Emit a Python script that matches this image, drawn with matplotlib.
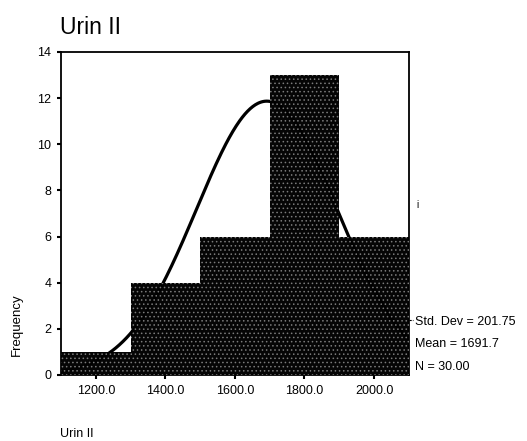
"""SPSS-style histogram of Urin II with fitted normal curve."""

import numpy as np
import matplotlib

matplotlib.use("Agg")

import matplotlib.pyplot as plt


BIN_EDGES = [1100, 1300, 1500, 1700, 1900, 2100]
COUNTS = [1, 4, 6, 13, 6]
STD_DEV = 201.75
MEAN = 1691.7
N = 30
X_TICKS = [1200, 1400, 1600, 1800, 2000]
Y_TICKS = [0, 2, 4, 6, 8, 10, 12, 14]

plt.rcParams["font.family"] = ["Liberation Sans", "DejaVu Sans"]
plt.rcParams["hatch.linewidth"] = 0.6

fig = plt.figure(figsize=(5.27, 4.41), dpi=100, facecolor="white")
ax = fig.add_axes([0.1157, 0.1497, 0.660, 0.7327])

lefts = BIN_EDGES[:-1]
widths = np.diff(BIN_EDGES)
ax.bar(lefts, COUNTS, width=widths, align="edge", color="#050505", linewidth=0, zorder=2)

# normal curve scaled to counts, from the printed statistics
bw = widths[0]
xs = np.linspace(BIN_EDGES[0], BIN_EDGES[-1], 400)
ys = N * bw / (STD_DEV * np.sqrt(2 * np.pi)) * np.exp(-0.5 * ((xs - MEAN) / STD_DEV) ** 2)
ax.plot(xs, ys, color="black", linewidth=2.3, solid_capstyle="round", zorder=3)

# speckled texture of the scanned bars
ax.bar(lefts, COUNTS, width=widths, align="edge", facecolor="none", edgecolor="#7a7a7a",
       hatch="....", linewidth=0, zorder=4)

ax.set_xlim(BIN_EDGES[0], BIN_EDGES[-1])
ax.set_ylim(0, 14)
ax.set_xticks(X_TICKS)
ax.set_xticklabels([f"{v:.1f}" for v in X_TICKS])
ax.set_yticks(Y_TICKS)
ax.tick_params(direction="out", length=3, width=1.5, labelsize=9, pad=4)
for s in ax.spines.values():
    s.set_linewidth(1.3)

fig.text(0.114, 0.937, "Urin II", fontsize=16.5, ha="left", va="center")
fig.text(0.032, 0.263, "Frequency", fontsize=9.5, rotation=90, ha="center", va="center")
fig.text(0.114, 0.016, "Urin II", fontsize=9, ha="left", va="center")

stats = [f"Std. Dev = {STD_DEV:.2f}", f"Mean = {MEAN:.1f}", f"N = {N:.2f}"]
for i, line in enumerate(stats):
    fig.text(0.787, 0.270 - i * 0.051, line, fontsize=9, ha="left", va="center")
ax.plot([1.0, 1.012], [2.4 / 14, 2.4 / 14], transform=ax.transAxes, color="black",
        linewidth=0.8, linestyle=(0, (2, 1)), clip_on=False)
fig.text(0.793, 0.535, "i", fontsize=7, ha="center", va="center")

fig.savefig("out.png", dpi=100, facecolor="white")
